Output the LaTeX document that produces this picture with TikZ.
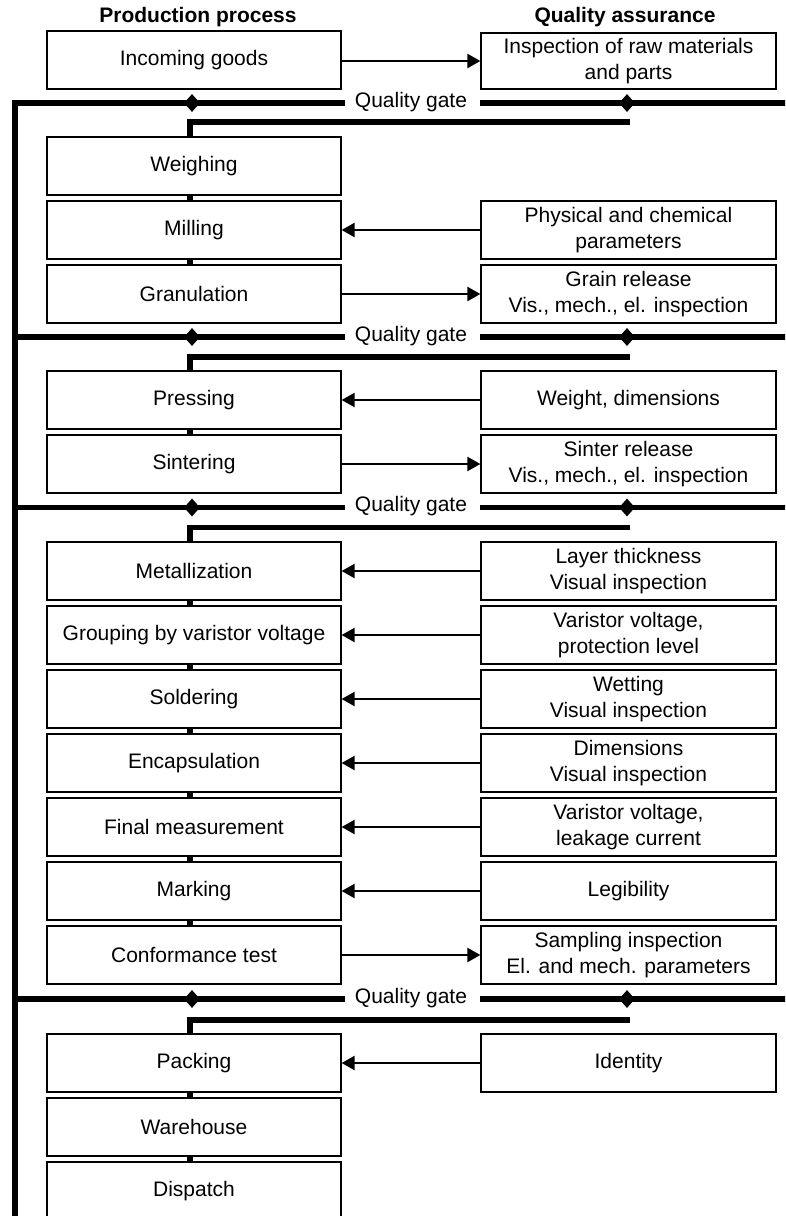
\documentclass[tikz,border=0pt]{standalone}
\usepackage{fontspec}
\setmainfont{Liberation Sans}
\usetikzlibrary{arrows.meta,shapes.geometric}
\begin{document}
\begin{tikzpicture}[x=1pt,y=-1pt,
  box/.style={draw,line width=1.2pt,minimum width=294pt,minimum height=58pt,inner sep=0pt,align=center,font=\fontsize{21}{25.5}\selectfont},
  rbox/.style={box,minimum width=295pt},
  title/.style={font=\fontsize{21}{25}\selectfont\bfseries,anchor=base,inner sep=0pt},
  gateline/.style={line width=5.2pt},
  arr/.style={line width=2.2pt,-{Triangle[length=13pt,width=14pt]}},
  gem/.style={diamond,fill=black,inner sep=0pt,minimum width=16pt,minimum height=18pt},
  gatetext/.style={font=\fontsize{21}{25}\selectfont,anchor=base,inner sep=0pt}
]
\useasboundingbox (0,0) rectangle (785,1216);
\fill[white] (0,0) rectangle (785,1216);
\clip (0,0) rectangle (785,1216);

% titles
\node[title] (tp) at (198,22.5) {Production process};
\node[title] (tq) at (625,22.5) {Quality assurance};

% production boxes
\node[box] (incoming) at (194,60) {Incoming goods};
\node[box] (weighing) at (194,166) {Weighing};
\node[box] (milling) at (194,230) {Milling};
\node[box] (granulation) at (194,294) {Granulation};
\node[box] (pressing) at (194,400) {Pressing};
\node[box] (sintering) at (194,464) {Sintering};
\node[box] (metal) at (194,571) {Metallization};
\node[box] (grouping) at (194,635) {Grouping by varistor voltage};
\node[box] (solder) at (194,699) {Soldering};
\node[box] (encap) at (194,763) {Encapsulation};
\node[box] (final) at (194,827) {Final measurement};
\node[box] (marking) at (194,891) {Marking};
\node[box] (conform) at (194,955) {Conformance test};
\node[box] (packing) at (194,1063) {Packing};
\node[box] (warehouse) at (194,1127) {Warehouse};
\node[box] (dispatch) at (194,1191) {Dispatch};

% quality assurance boxes
\node[rbox,minimum height=56pt] (insp) at (628.5,61) {Inspection of raw materials\\and parts};
\node[rbox] (phys) at (628.5,230) {Physical and chemical\\parameters};
\node[rbox] (grain) at (628.5,294) {Grain release\\Vis., mech., el. inspection};
\node[rbox] (weight) at (628.5,400) {Weight, dimensions};
\node[rbox] (sinter) at (628.5,464) {Sinter release\\Vis., mech., el. inspection};
\node[rbox] (layer) at (628.5,571) {Layer thickness\\Visual inspection};
\node[rbox] (vvolt) at (628.5,635) {Varistor voltage,\\protection level};
\node[rbox] (wet) at (628.5,699) {Wetting\\Visual inspection};
\node[rbox] (dim) at (628.5,763) {Dimensions\\Visual inspection};
\node[rbox] (vleak) at (628.5,827) {Varistor voltage,\\leakage current};
\node[rbox] (leg) at (628.5,891) {Legibility};
\node[rbox] (samp) at (628.5,955) {Sampling inspection\\El. and mech. parameters};
\node[rbox] (ident) at (628.5,1063) {Identity};

% arrows
\draw[arr] (incoming.east |- insp.west) -- (insp.west);
\draw[arr] (phys.west) -- (phys.west -| milling.east);
\draw[arr] (granulation.east) -- (granulation.east -| grain.west);
\draw[arr] (weight.west) -- (weight.west -| pressing.east);
\draw[arr] (sintering.east) -- (sintering.east -| sinter.west);
\draw[arr] (layer.west) -- (layer.west -| metal.east);
\draw[arr] (vvolt.west) -- (vvolt.west -| grouping.east);
\draw[arr] (wet.west) -- (wet.west -| solder.east);
\draw[arr] (dim.west) -- (dim.west -| encap.east);
\draw[arr] (vleak.west) -- (vleak.west -| final.east);
\draw[arr] (leg.west) -- (leg.west -| marking.east);
\draw[arr] (conform.east) -- (conform.east -| samp.west);
\draw[arr] (ident.west) -- (ident.west -| packing.east);

% chain connectors between production steps
\foreach \a/\b in {weighing/milling, milling/granulation, pressing/sintering, metal/grouping, grouping/solder, solder/encap, encap/final, final/marking, marking/conform, packing/warehouse, warehouse/dispatch}
  \draw[gateline] ([xshift=-4pt]\a.south) -- ([xshift=-4pt]\b.north);

% spine
\draw[gateline] (345,103) -- (15,103) -- (15,1240);

% quality gates
\foreach \n/\gy/\sy/\nxt in {1/103/122/weighing, 2/337/357/pressing, 3/507.5/527.5/metal, 4/999/1020/packing}{
  \node[gatetext] (gt\n) at (411,\gy+4) {Quality gate};
  \draw[gateline] (15,\gy) -- (345,\gy);
  \draw[gateline] (480,\gy) -- (790,\gy);
  \node[gem] (dl\n) at (192,\gy) {};
  \node[gem] (dr\n) at (627,\gy) {};
  \draw[gateline] ([xshift=-4pt]\nxt.north) |- (630,\sy);
}
\end{tikzpicture}
\end{document}
